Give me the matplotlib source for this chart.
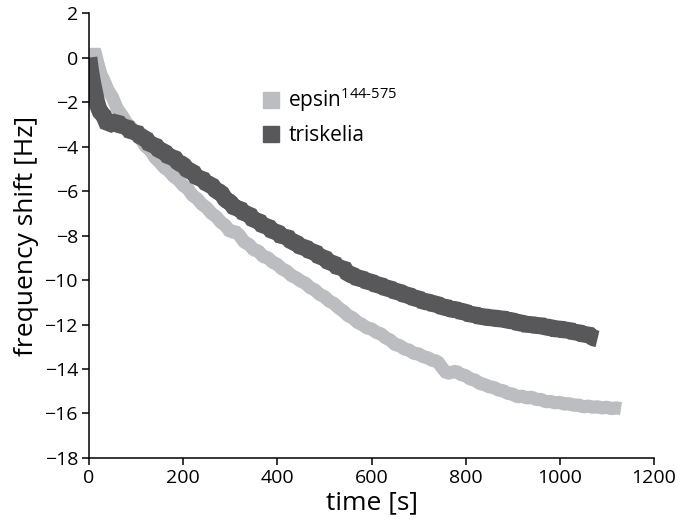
import numpy as np
import matplotlib
matplotlib.use("Agg")
import matplotlib.pyplot as plt
from matplotlib.lines import Line2D

plt.rcParams['font.family'] = ['Open Sans', 'DejaVu Sans']
plt.rcParams['mathtext.fontset'] = 'custom'
plt.rcParams['mathtext.rm'] = 'Open Sans'

# epsin 144-575 trace (light grey)
epsin_t = [5, 8, 11, 14, 18, 22, 26] + list(range(30, 1131, 10))
epsin_f = [-0.1, 0.15, 0.35, 0.15, -0.2, -0.5, -0.8,
           -0.95, -1.45, -1.8, -2.3, -2.6, -2.95, -3.15, -3.45, -3.65, -4.0,
           -4.15, -4.5, -4.7, -4.95, -5.1, -5.35, -5.5, -5.75, -5.9, -6.2,
           -6.35, -6.6, -6.75, -7.0, -7.15, -7.4, -7.55, -7.85, -7.8, -8.0,
           -8.3, -8.4, -8.65, -8.7, -8.95, -9.0, -9.2, -9.3, -9.5,
           -9.6, -9.8, -9.9, -10.05, -10.15, -10.35, -10.45, -10.65, -10.75, -10.95,
           -11.05, -11.25, -11.4, -11.6, -11.7, -11.9, -12.0, -12.15, -12.2, -12.35,
           -12.42, -12.6, -12.7, -12.9, -12.95, -13.1, -13.15, -13.3, -13.32, -13.45,
           -13.5, -13.62, -13.65, -13.95, -14.2, -14.15, -14.1, -14.25, -14.3, -14.45,
           -14.5, -14.65, -14.7, -14.8, -14.83, -14.95, -14.98, -15.1, -15.13, -15.25,
           -15.22, -15.3, -15.27, -15.37, -15.37, -15.47, -15.46, -15.52, -15.5, -15.58,
           -15.56, -15.63, -15.62, -15.7, -15.67, -15.72, -15.7, -15.75, -15.72, -15.78,
           -15.75, -15.78]

# triskelia trace (dark grey)
trisk_t = [0, 3, 6, 9, 12, 16, 20, 25] + list(range(30, 1081, 10))
trisk_f = [0.0, -0.5, -0.9, -1.25, -1.55, -1.95, -2.25, -2.5,
           -2.55, -3.05, -2.95, -2.85, -3.15, -3.05, -3.4, -3.3, -3.6, -3.6,
           -3.95, -3.9, -4.2, -4.2, -4.5, -4.45, -4.75, -4.8, -5.1, -5.1,
           -5.45, -5.4, -5.7, -5.7, -6.0, -6.05, -6.4, -6.5, -6.8, -6.75,
           -7.05, -7.0, -7.35, -7.3, -7.6, -7.55, -7.85, -7.8, -8.1, -8.0,
           -8.3, -8.3, -8.55, -8.5, -8.75, -8.7, -9.0, -8.95, -9.25, -9.2,
           -9.5, -9.4, -9.75, -9.75, -9.95, -9.9, -10.1, -10.05, -10.25, -10.2,
           -10.4, -10.35, -10.55, -10.5, -10.7, -10.65, -10.85, -10.8, -11.0, -10.95,
           -11.1, -11.05, -11.25, -11.2, -11.35, -11.3, -11.45, -11.4, -11.6, -11.5,
           -11.7, -11.6, -11.75, -11.65, -11.8, -11.7, -11.85, -11.8, -11.95, -11.9,
           -12.05, -11.95, -12.1, -12.0, -12.15, -12.1, -12.25, -12.15, -12.3, -12.2,
           -12.4, -12.3, -12.5, -12.4, -12.6, -12.65]

light = '#bcbdc0'
dark = '#58585a'

fig = plt.figure(figsize=(6.78, 5.24), dpi=100)
ax = fig.add_axes([0.1313, 0.126, 0.8333, 0.849])

ax.plot(epsin_t, epsin_f, color=light, lw=9.5, solid_capstyle='butt',
        solid_joinstyle='bevel')
ax.plot(trisk_t, trisk_f, color=dark, lw=12, solid_capstyle='butt',
        solid_joinstyle='bevel')

ax.set_xlim(0, 1200)
ax.set_ylim(-18, 2)
ax.set_xticks(range(0, 1201, 200))
ax.set_yticks(range(-18, 3, 2))
for s in ['top', 'right']:
    ax.spines[s].set_visible(False)
for s in ['left', 'bottom']:
    ax.spines[s].set_linewidth(1.1)
ax.tick_params(direction='out', length=5, width=1.1, labelsize=14, pad=3)
ax.set_xlabel('time [s]', fontsize=19, labelpad=2)
ax.set_ylabel('frequency shift [Hz]', fontsize=19, labelpad=4)

handles = [Line2D([], [], ls='none', marker='s', ms=11, color=light),
           Line2D([], [], ls='none', marker='s', ms=11, color=dark)]
labels = [r'epsin$^{\mathrm{144‐575}}$', 'triskelia']
ax.legend(handles, labels, loc='upper left', bbox_to_anchor=(0.275, 0.88),
          frameon=False, fontsize=15, handlelength=0.8, handletextpad=0.4,
          labelspacing=0.55)

fig.savefig('out.png', dpi=100)
